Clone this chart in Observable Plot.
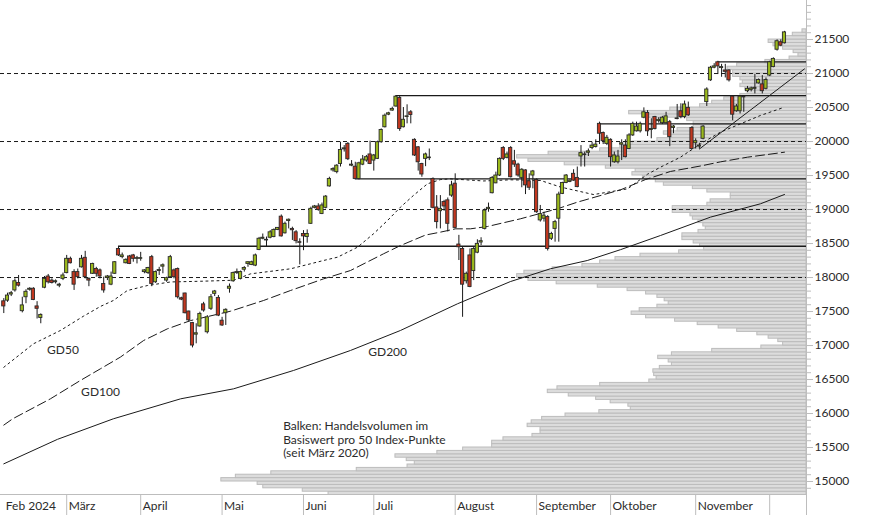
<!DOCTYPE html>
<html><head><meta charset="utf-8">
<script src="https://cdn.jsdelivr.net/npm/d3@7"></script>
<script src="https://cdn.jsdelivr.net/npm/@observablehq/plot@0.6"></script>
<style>
body{margin:0;background:#fff;}
#wrap{position:relative;width:874px;height:515px;overflow:hidden;background:#fff;}
#wrap svg{position:absolute;left:0;top:0;}
</style></head><body><div id="wrap"></div>
<script>
// Daily candles [open, high, low, close], grouped by month (Feb 6 2024 – Dec 6 2024)
const feb = [[17650,17690,17470,17575],[17660,17770,17635,17735],[17750,17795,17720,17770],[17810,17980,17785,17945],[17920,18030,17860,17880],[17505,17710,17480,17590],[17710,17820,17615,17790],[17820,17850,17800,17835],[17835,17850,17660,17670],[17575,17645,17390,17540],[17405,17465,17320,17450],[17850,18015,17835,17980],[18015,18045,17905,17930],[17955,17980,17905,17920],[17930,17965,17905,17945],[17880,17915,17850,17895],[17980,18065,17955,18030]];
const mar = [[18065,18325,18055,18275],[18275,18300,18200,18210],[18080,18115,17810,17895],[18080,18125,17980,18005],[18150,18325,18140,18275],[18290,18385,17980,18005],[17980,17995,17865,17955],[18055,18210,18045,18200],[18125,18150,18005,18055],[18105,18125,17980,18015],[17905,18005,17770,17810],[17995,18030,17955,18015],[17895,18080,17880,18015],[18055,18235,18045,18225],[18420,18455,18310,18325],[18300,18360,18275,18325],[18210,18275,18200,18260],[18310,18325,18190,18200],[18325,18340,18225,18275],[18275,18310,18200,18285]];
const apr = [[18275,18370,18240,18285],[18080,18115,18055,18105],[18065,18150,18045,18140],[18300,18325,17865,17905],[17930,18095,17915,18080],[18095,18150,18030,18110],[18160,18200,18055,18180],[17955,18005,17930,17990],[18005,18325,17995,18300],[18105,18125,17980,18005],[18125,18140,17685,17710],[17695,17710,17660,17675],[17765,17770,17465,17475],[17500,17505,17345,17370],[17330,17340,16965,17000],[17160,17320,17025,17180],[17280,17490,17270,17465],[17605,17635,17490,17515],[17195,17440,17170,17415],[17540,17750,17515,17710],[17760,17810,17720,17795],[17700,17735,17425,17440]];
const may = [[17365,17415,17280,17295],[17475,17540,17295,17525],[17835,17905,17770,17865],[17945,18080,17930,18065],[18065,18125,18045,18080],[17980,18095,17965,18080],[18115,18160,18080,18140],[18200,18230,18150,18225],[18185,18240,18175,18225],[18175,18345,18160,18325],[18405,18590,18395,18570],[18570,18640,18555,18585],[18555,18595,18455,18545],[18585,18690,18570,18665],[18595,18715,18585,18700],[18700,18735,18690,18730],[18895,18920,18595,18605],[18650,18815,18640,18790],[18830,18860,18715,18850],[18715,18740,18545,18695],[18665,18690,18495,18535],[18520,18570,18185,18510]];
const jun = [[18640,18690,18395,18605],[18595,18700,18505,18640],[18790,19035,18780,19010],[19025,19060,19010,19045],[19045,19085,18975,18995],[18935,19095,18925,19060],[19025,19205,19010,19190],[19340,19475,19330,19450],[19575,19615,19550,19595],[19550,19660,19525,19645],[19670,19990,19625,19875],[19885,19940,19845,19900],[19965,19985,19720,19740],[19645,19720,19630,19660],[19630,19695,19440,19450],[19450,19695,19435,19680],[19660,19795,19645,19735],[19720,19795,19695,19770],[19810,20005,19660,19670]];
const jul = [[19720,19810,19565,19795],[19745,20005,19735,19990],[19990,20185,19975,20170],[20210,20405,20200,20380],[20395,20430,20380,20415],[20455,20505,20445,20480],[20515,20675,20505,20660],[20640,20675,20150,20185],[20210,20500,20200,20320],[20360,20540,20260,20370],[20430,20455,20260,20390],[20025,20040,19780,19795],[19915,19925,19565,19695],[19670,19680,19475,19515],[19745,19830,19630,19810],[19755,19890,19720,19765],[19450,19465,19010,19025],[19030,19205,18715,18815],[18975,19205,18715,19010],[19110,19135,18975,19045],[19135,19170,18670,18790],[19205,19415,19180,19355]];
const aug = [[19380,19525,18715,18730],[18485,18620,18250,18445],[18420,18455,17415,17895],[17945,18080,17905,18055],[18325,18420,17850,17860],[18095,18445,17955,18420],[18365,18555,18350,18495],[18515,18585,18470,18535],[18715,19010,18700,18985],[19005,19095,18960,19025],[19240,19485,19230,19465],[19385,19550,19380,19500],[19500,19760,19485,19745],[19905,19925,19720,19745],[19760,19845,19745,19810],[19905,19925,19465,19475],[19710,19870,19620,19660],[19660,19680,19475,19500],[19465,19600,19320,19585],[19575,19585,19220,19355],[19415,19525,19280,19320],[19500,19575,19305,19560]];
const sep = [[19435,19450,18945,18960],[18840,19060,18815,18935],[18865,18960,18815,18910],[18890,18910,18390,18420],[18570,18665,18545,18640],[18715,18840,18520,18815],[18865,19255,18520,19220],[19230,19400,19220,19390],[19390,19515,19380,19500],[19405,19435,19395,19425],[19525,19585,19415,19425],[19465,19625,19320,19330],[19780,19940,19625,19830],[19800,19845,19625,19810],[19835,19890,19780,19855],[19905,19990,19880,19940],[19920,20025,19905,19955],[20260,20285,19955,20115],[20125,20140,19955,20005],[19965,20090,19940,20055]];
const oct = [[20025,20040,19625,19770],[19695,19845,19680,19795],[19695,19870,19670,19780],[19955,20025,19720,19975],[19940,20025,19760,19770],[19890,20115,19880,20090],[20090,20285,20075,20260],[20150,20285,20140,20220],[20150,20285,20125,20260],[20350,20495,20335,20430],[20420,20455,20075,20150],[20170,20335,20040,20185],[20360,20370,20170,20185],[20300,20350,20270,20320],[20270,20370,20250,20350],[20270,20430,20260,20370],[20285,20310,19925,20065],[20200,20235,20115,20220],[20330,20545,20320,20340],[20445,20555,20335,20360],[20360,20595,20335,20545],[20495,20580,20370,20385],[20200,20220,19880,19890]];
const nov = [[19975,20040,19890,20005],[19925,19975,19890,19940],[20040,20235,20025,20220],[20580,20790,20515,20765],[20900,21105,20885,21085],[21085,21145,21070,21105],[21165,21180,20985,21105],[21080,21135,20945,21095],[21045,21135,20935,21025],[21045,21055,20875,20900],[20660,20675,20305,20395],[20445,20545,20430,20515],[20445,20675,20405,20660],[20655,20665,20430,20650],[20740,20810,20720,20775],[20760,20800,20730,20780],[20775,20985,20700,20790],[20855,20920,20845,20905],[20840,20970,20700,20740],[20775,20935,20760,20905]];
const dec = [[20970,21180,20955,21165],[21095,21230,21085,21215],[21350,21495,21330,21475],[21460,21495,21395,21410],[21445,21620,21435,21605]];

// Month labels and index of first trading day of each month
const monthLabels = ["Feb 2024","März","April","Mai","Juni","Juli","August","September","Oktober","November"];
const monthFirstDay = [0,17,37,59,81,100,122,144,164,187];
const decemberFirstDay = 207;

// Moving averages [trading-day index, value]
const gd50 = [[0,16680],[8,17025],[15.3,17221],[21.5,17430],[26.1,17574],[29.6,17662],[33.4,17809],[38.8,17882],[45.1,17935],[53.2,17945],[62.1,17960],[66.7,18054],[77.5,18128],[86.4,18250],[90.2,18299],[95.6,18446],[99.9,18642],[103.7,18838],[107.2,19034],[110.7,19206],[114.5,19378],[118,19440],[120.7,19451],[129.7,19420],[137,19437],[145.1,19427],[150.5,19330],[159.4,19220],[168.6,19304],[174,19520],[177.5,19623],[182.9,19770],[188.3,19966],[193.7,20138],[199.1,20260],[204.5,20383],[211,20505]];
const gd100 = [[0,15830],[2.4,15922],[12.6,16216],[20.7,16486],[26.1,16657],[31.5,16829],[37.8,17074],[44.2,17245],[50.5,17367],[61.3,17505],[70.2,17662],[77.5,17809],[86.4,17980],[93.7,18103],[102.6,18348],[107.2,18470],[114,18625],[118,18667],[122.1,18716],[126.1,18716],[130.7,18750],[139.6,18863],[149.6,19010],[155,19108],[166.7,19290],[173.4,19440],[180.2,19560],[188.3,19640],[193.7,19701],[201,19770],[206.4,19809],[211,19843]];
const gd200 = [[0,15260],[14.5,15620],[29.6,15922],[47.8,16216],[62.1,16363],[78.3,16633],[93.7,16927],[107.2,17221],[122.6,17613],[136.9,17940],[147.7,18128],[157.7,18250],[166.7,18410],[177.5,18618],[191,18888],[204.5,19084],[211,19221]];

// Horizontal levels
const dashedLevels = [18000, 19000, 20000, 21000];
const supportLevels = [18460, 19450, 20675, 20260, 21170];
const supportFrom = [31, 95, 106, 161, 193];
const trendLine = [[188,19890],[216.4,21068]];

// Volume profile: traded volume per 50 index points (relative units), from 14800 upward
const profileStart = 14800, profileStep = 50;
const profileVolume = [59.3,62.5,67.4,68.1,72.6,70.8,66.4,55.8,49.5,48.6,49.6,51.0,45.8,42.6,39.0,39.0,37.6,34.0,33.0,33.0,34.6,34.1,32.8,29.9,25.7,21.8,22.1,24.3,26.1,29.5,32.1,30.9,25.6,19.5,18.6,18.9,19.0,18.2,16.7,17.1,18.4,16.7,11.7,5.6,2.9,3.5,4.7,6.1,8.6,10.9,13.5,16.3,19.9,21.7,20.7,18.5,17.1,17.6,18.5,19.9,22.2,25.9,31.0,34.5,35.9,35.0,31.5,27.8,25.6,23.7,20.6,15.8,12.7,13.2,14.0,15.4,15.4,13.4,12.5,12.8,13.4,14.1,14.4,16.6,16.6,12.3,11.9,9.4,9.4,12.3,14.1,17.7,18.7,20.3,21.6,21.2,24.9,30.0,34.5,35.9,32.0,25.6,23.1,21.6,18.5,17.1,17.7,16.0,14.0,14.0,14.8,19.7,22.0,16.9,13.2,11.7,10.2,8.2,7.3,7.6,8.2,7.9,8.2,9.1,9.1,9.8,8.6,5.1,2.1,1.0,1.6,2.9,4.1,4.7,2.6,1.7,0.5];

const yTickMajor = d3.range(15000, 21501, 500);
const yTickMinor = d3.range(14900, 22001, 100);

// ---- build tables
const candles = [feb,mar,apr,may,jun,jul,aug,sep,oct,nov,dec].flat().map(([o,h,l,c], i) => ({i,o,h,l,c}));
const months = monthLabels.map((label, k) => ({label, i: monthFirstDay[k]}));
const profile = profileVolume.map((v, k) => ({lo: profileStart + k*profileStep, v}));
const levels = supportLevels.map((v, k) => ({v, from: supportFrom[k]}));
const toPts = a => a.map(([i, v]) => ({i, v}));

const xDomain = [-0.89, 216.95];
const yDomain = [14809, 22074];
const frame = {width: 874, height: 515, marginLeft: 0, marginRight: 68, marginTop: 0, marginBottom: 21};
const font = {fontFamily: "Lato, 'Open Sans', sans-serif", fontSize: "12px"};
const ink = "#1a1a1a", axisGray = "#bdbdbd", txt = "#2b2b2b";
const green = "#9cba1c", red = "#c2371f";

const volPlot = Plot.plot({
  ...frame,
  style: {...font, background: "#fff"},
  x: {domain: [0, 100], reverse: true, axis: null},
  y: {domain: yDomain, axis: null},
  marks: [
    Plot.rect(profile, {x1: 0, x2: "v", y1: "lo", y2: d => d.lo + profileStep, fill: "#dcdcdc", stroke: "#bcbcbc", strokeWidth: 1, clip: true})
  ]
});

const seps = [...monthFirstDay.slice(1), decemberFirstDay, xDomain[1]];

const mainPlot = Plot.plot({
  ...frame,
  style: {...font, background: "transparent"},
  x: {domain: xDomain},
  y: {domain: yDomain},
  marks: [
    Plot.ruleY(dashedLevels, {stroke: ink, strokeWidth: 1, strokeDasharray: "4,3"}),
    Plot.ruleY(levels, {y: "v", x1: "from", x2: xDomain[1], stroke: ink, strokeWidth: 1.3}),
    Plot.line(toPts(gd200), {x: "i", y: "v", stroke: ink, strokeWidth: 1}),
    Plot.line(toPts(gd100), {x: "i", y: "v", stroke: ink, strokeWidth: 1, strokeDasharray: "9,4"}),
    Plot.line(toPts(gd50), {x: "i", y: "v", stroke: ink, strokeWidth: 1, strokeDasharray: "2,3.5"}),
    Plot.line(toPts(trendLine), {x: "i", y: "v", stroke: ink, strokeWidth: 1}),
    Plot.ruleY([yDomain[0]], {stroke: axisGray}),
    Plot.ruleX([xDomain[1]], {stroke: axisGray}),
    Plot.ruleX(candles, {x: "i", y1: "l", y2: "h", stroke: ink, strokeWidth: 1}),
    Plot.rect(candles, {x1: d => d.i - 0.43, x2: d => d.i + 0.43, y1: "o", y2: "c",
      fill: d => d.c >= d.o ? green : red, stroke: "#2a2a2a", strokeWidth: 0.9}),
    Plot.axisY({anchor: "right", ticks: yTickMinor, tickSize: 4, tickFormat: () => "", stroke: axisGray}),
    Plot.axisY({anchor: "right", ticks: yTickMajor, tickSize: 6, tickPadding: 2, tickFormat: d => String(d), stroke: axisGray, fill: txt, fontSize: 12}),
    Plot.axisX({ticks: seps, tickSize: 21, tickFormat: () => "", stroke: axisGray}),
    Plot.text(months, {x: d => Math.max(d.i, xDomain[0]), text: "label", frameAnchor: "bottom", dy: 7, dx: 2, textAnchor: "start", lineAnchor: "top", fill: txt, fontSize: 12}),
    Plot.text(["GD50"], {x: 11.7, y: 16934, text: d => d, textAnchor: "start", fill: txt, fontSize: 12}),
    Plot.text(["GD100"], {x: 20.9, y: 16316, text: d => d, textAnchor: "start", fill: txt, fontSize: 12}),
    Plot.text(["GD200"], {x: 98.5, y: 16904, text: d => d, textAnchor: "start", fill: txt, fontSize: 12}),
    Plot.text(["Balken: Handelsvolumen im\nBasiswert pro 50 Index-Punkte\n(seit März 2020)"], {x: 75.5, y: 15900, text: d => d, textAnchor: "start", lineAnchor: "top", lineHeight: 1.13, fill: txt, fontSize: 12})
  ]
});

const wrap = document.getElementById("wrap");
wrap.appendChild(volPlot);
wrap.appendChild(mainPlot);
</script></body></html>
